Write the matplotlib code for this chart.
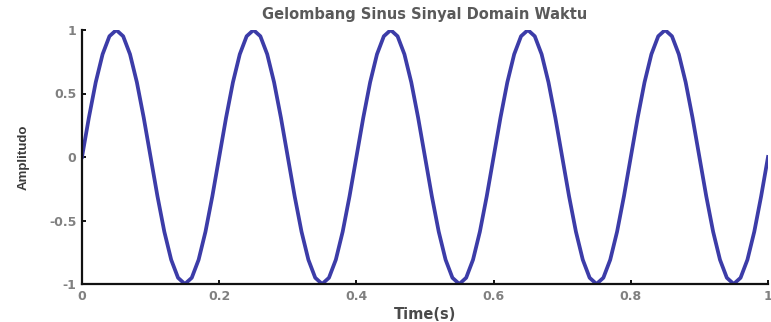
import numpy as np
import matplotlib
matplotlib.use("Agg")
import matplotlib.pyplot as plt

time_s = np.linspace(0.0, 1.0, 101)
amplitude = [
    0.0, 0.309, 0.588, 0.809, 0.951, 1.0, 0.951, 0.809, 0.588, 0.309,
    0.0, -0.309, -0.588, -0.809, -0.951, -1.0, -0.951, -0.809, -0.588, -0.309,
    0.0, 0.309, 0.588, 0.809, 0.951, 1.0, 0.951, 0.809, 0.588, 0.309,
    0.0, -0.309, -0.588, -0.809, -0.951, -1.0, -0.951, -0.809, -0.588, -0.309,
    0.0, 0.309, 0.588, 0.809, 0.951, 1.0, 0.951, 0.809, 0.588, 0.309,
    0.0, -0.309, -0.588, -0.809, -0.951, -1.0, -0.951, -0.809, -0.588, -0.309,
    0.0, 0.309, 0.588, 0.809, 0.951, 1.0, 0.951, 0.809, 0.588, 0.309,
    0.0, -0.309, -0.588, -0.809, -0.951, -1.0, -0.951, -0.809, -0.588, -0.309,
    0.0, 0.309, 0.588, 0.809, 0.951, 1.0, 0.951, 0.809, 0.588, 0.309,
    0.0, -0.309, -0.588, -0.809, -0.951, -1.0, -0.951, -0.809, -0.588, -0.309,
    0.0,
]
x_ticks = [0, 0.2, 0.4, 0.6, 0.8, 1]
x_tick_labels = ["0", "0.2", "0.4", "0.6", "0.8", "1"]
y_ticks = [-1, -0.5, 0, 0.5, 1]
y_tick_labels = ["-1", "-0.5", "0", "0.5", "1"]
title = "Gelombang Sinus Sinyal Domain Waktu"
x_label = "Time(s)"
y_label = "Amplitudo"

plt.rcParams['font.family'] = ['DejaVu Sans']

fig = plt.figure(figsize=(7.71, 3.22), dpi=100)
ax = fig.add_axes([82/771, 1 - 284/322, (768 - 82)/771, (284 - 30)/322])

ax.plot(time_s, amplitude, color="#3c3ca8", linewidth=2.7, solid_joinstyle="round")

ax.set_xlim(0, 1)
ax.set_ylim(-1, 1)
ax.set_xticks(x_ticks)
ax.set_xticklabels(x_tick_labels)
ax.set_yticks(y_ticks)
ax.set_yticklabels(y_tick_labels)

for side in ("top", "right"):
    ax.spines[side].set_visible(False)
for side in ("left", "bottom"):
    ax.spines[side].set_linewidth(1.6)
    ax.spines[side].set_color("#111111")

ax.tick_params(direction="in", length=3, width=1.4, colors="#111111",
               labelcolor="#808080", labelsize=9, pad=4)
for lbl in ax.get_xticklabels() + ax.get_yticklabels():
    lbl.set_fontweight("bold")

ax.set_title(title, fontsize=10.5, fontweight="bold", color="#5a5a5a", pad=8)
ax.set_xlabel(x_label, fontsize=10.5, fontweight="bold", color="#4a4a4a", labelpad=3)
ax.set_ylabel(y_label, fontsize=9.5, fontweight="bold", color="#3a3a3a", labelpad=14,
              family=['Liberation Sans', 'DejaVu Sans'])

fig.savefig("out.png", dpi=100)
